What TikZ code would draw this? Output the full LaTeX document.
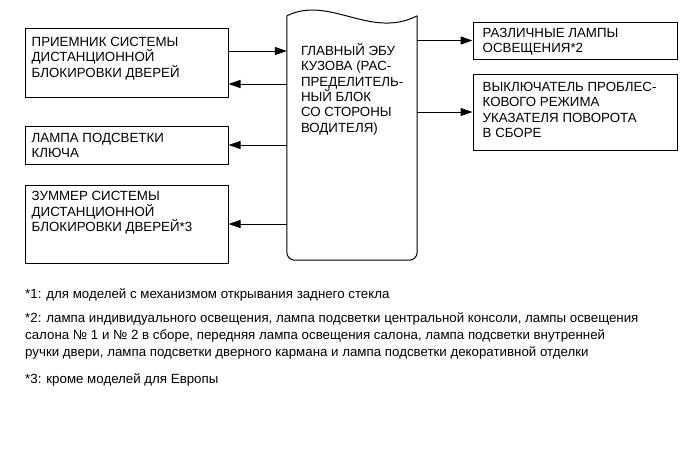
\documentclass[tikz,border=0pt]{standalone}
\usepackage{fontspec}
\setmainfont{Liberation Sans}
\usetikzlibrary{arrows.meta,positioning,calc}

\tikzset{
  box/.style={draw, line width=1pt, minimum width=204pt, inner sep=0pt},
  line/.style={line width=1pt},
  txt/.style={anchor=north west, align=left, inner sep=0pt, font=\fontsize{13.3}{15.3}\selectfont},
  note/.style={anchor=north west, align=left, inner sep=0pt, font=\fontsize{13.3}{17}\selectfont},
  arr/.style={line width=1pt, -{Triangle[length=12pt,width=8pt]}}
}

\begin{document}
\begin{tikzpicture}[x=1pt,y=-1pt]
    \useasboundingbox (0,0) rectangle (690,467);

    % left column
    \node[box, minimum width=203pt, minimum height=69pt] (rcv) at (126.5,62.5) {};
    \node[txt] (rcv-t) at ([shift={(7,9.5)}]rcv.north west) {ПРИЕМНИК СИСТЕМЫ\\ДИСТАНЦИОННОЙ\\БЛОКИРОВКИ ДВЕРЕЙ};
    \node[box, minimum width=203pt, minimum height=38pt] (keylamp) at (126.5,145) {};
    \node[txt] (keylamp-t) at ([shift={(7,7.5)}]keylamp.north west) {ЛАМПА ПОДСВЕТКИ\\КЛЮЧА};
    \node[box, minimum width=203pt, minimum height=78pt] (buzz) at (126.5,224) {};
    \node[txt] (buzz-t) at ([shift={(7,7)}]buzz.north west) {ЗУММЕР СИСТЕМЫ\\ДИСТАНЦИОННОЙ\\БЛОКИРОВКИ ДВЕРЕЙ*3};

    % main ECU
    \node[minimum width=130pt, minimum height=244pt, inner sep=0pt] (ecu) at (352,138) {};
    \draw[line] (ecu.north west) .. controls +(43,-21) and +(-47,24) .. (ecu.north east);
    \draw[line, rounded corners=8pt] (ecu.north east) -- (ecu.south east) -- (ecu.south west) -- (ecu.north west);
    \node[txt] (ecu-t) at ([shift={(14,27.5)}]ecu.north west) {ГЛАВНЫЙ ЭБУ\\КУЗОВА (РАС-\\ПРЕДЕЛИТЕЛЬ-\\НЫЙ БЛОК\\СО СТОРОНЫ\\ВОДИТЕЛЯ)};

    % right column
    \node[box, minimum height=37pt] (lamps) at (575,40.5) {};
    \node[txt] (lamps-t) at ([shift={(10,6.5)}]lamps.north west) {РАЗЛИЧНЫЕ ЛАМПЫ\\ОСВЕЩЕНИЯ*2};
    \node[box, minimum height=76pt] (flash) at (575,112) {};
    \node[txt] (flash-t) at ([shift={(10,8.5)}]flash.north west) {ВЫКЛЮЧАТЕЛЬ ПРОБЛЕС-\\КОВОГО РЕЖИМА\\УКАЗАТЕЛЯ ПОВОРОТА\\В СБОРЕ};

    % connectors
    \draw[arr] ([yshift=11.5pt]rcv.east) -- ([yshift=11.5pt]rcv.east -| ecu.west);
    \draw[arr] ([yshift=-21.5pt]rcv.east -| ecu.west) -- ([yshift=-21.5pt]rcv.east);
    \draw[arr] (keylamp.east -| ecu.west) -- (keylamp.east);
    \draw[arr] (buzz.east -| ecu.west) -- (buzz.east);
    \draw[arr] (lamps.west -| ecu.east) -- (lamps.west);
    \draw[arr] (flash.west -| ecu.east) -- (flash.west);

    % notes
    \node[note] (n1) at (25,288) {*1: для моделей с механизмом открывания заднего стекла};
    \node[note] (n2) at (25,312) {*2: лампа индивидуального освещения, лампа подсветки центральной консоли, лампы освещения\\салона № 1 и № 2 в сборе, передняя лампа освещения салона, лампа подсветки внутренней\\ручки двери, лампа подсветки дверного кармана и лампа подсветки декоративной отделки};
    \node[note] (n3) at (25,373) {*3: кроме моделей для Европы};
\end{tikzpicture}
\end{document}
